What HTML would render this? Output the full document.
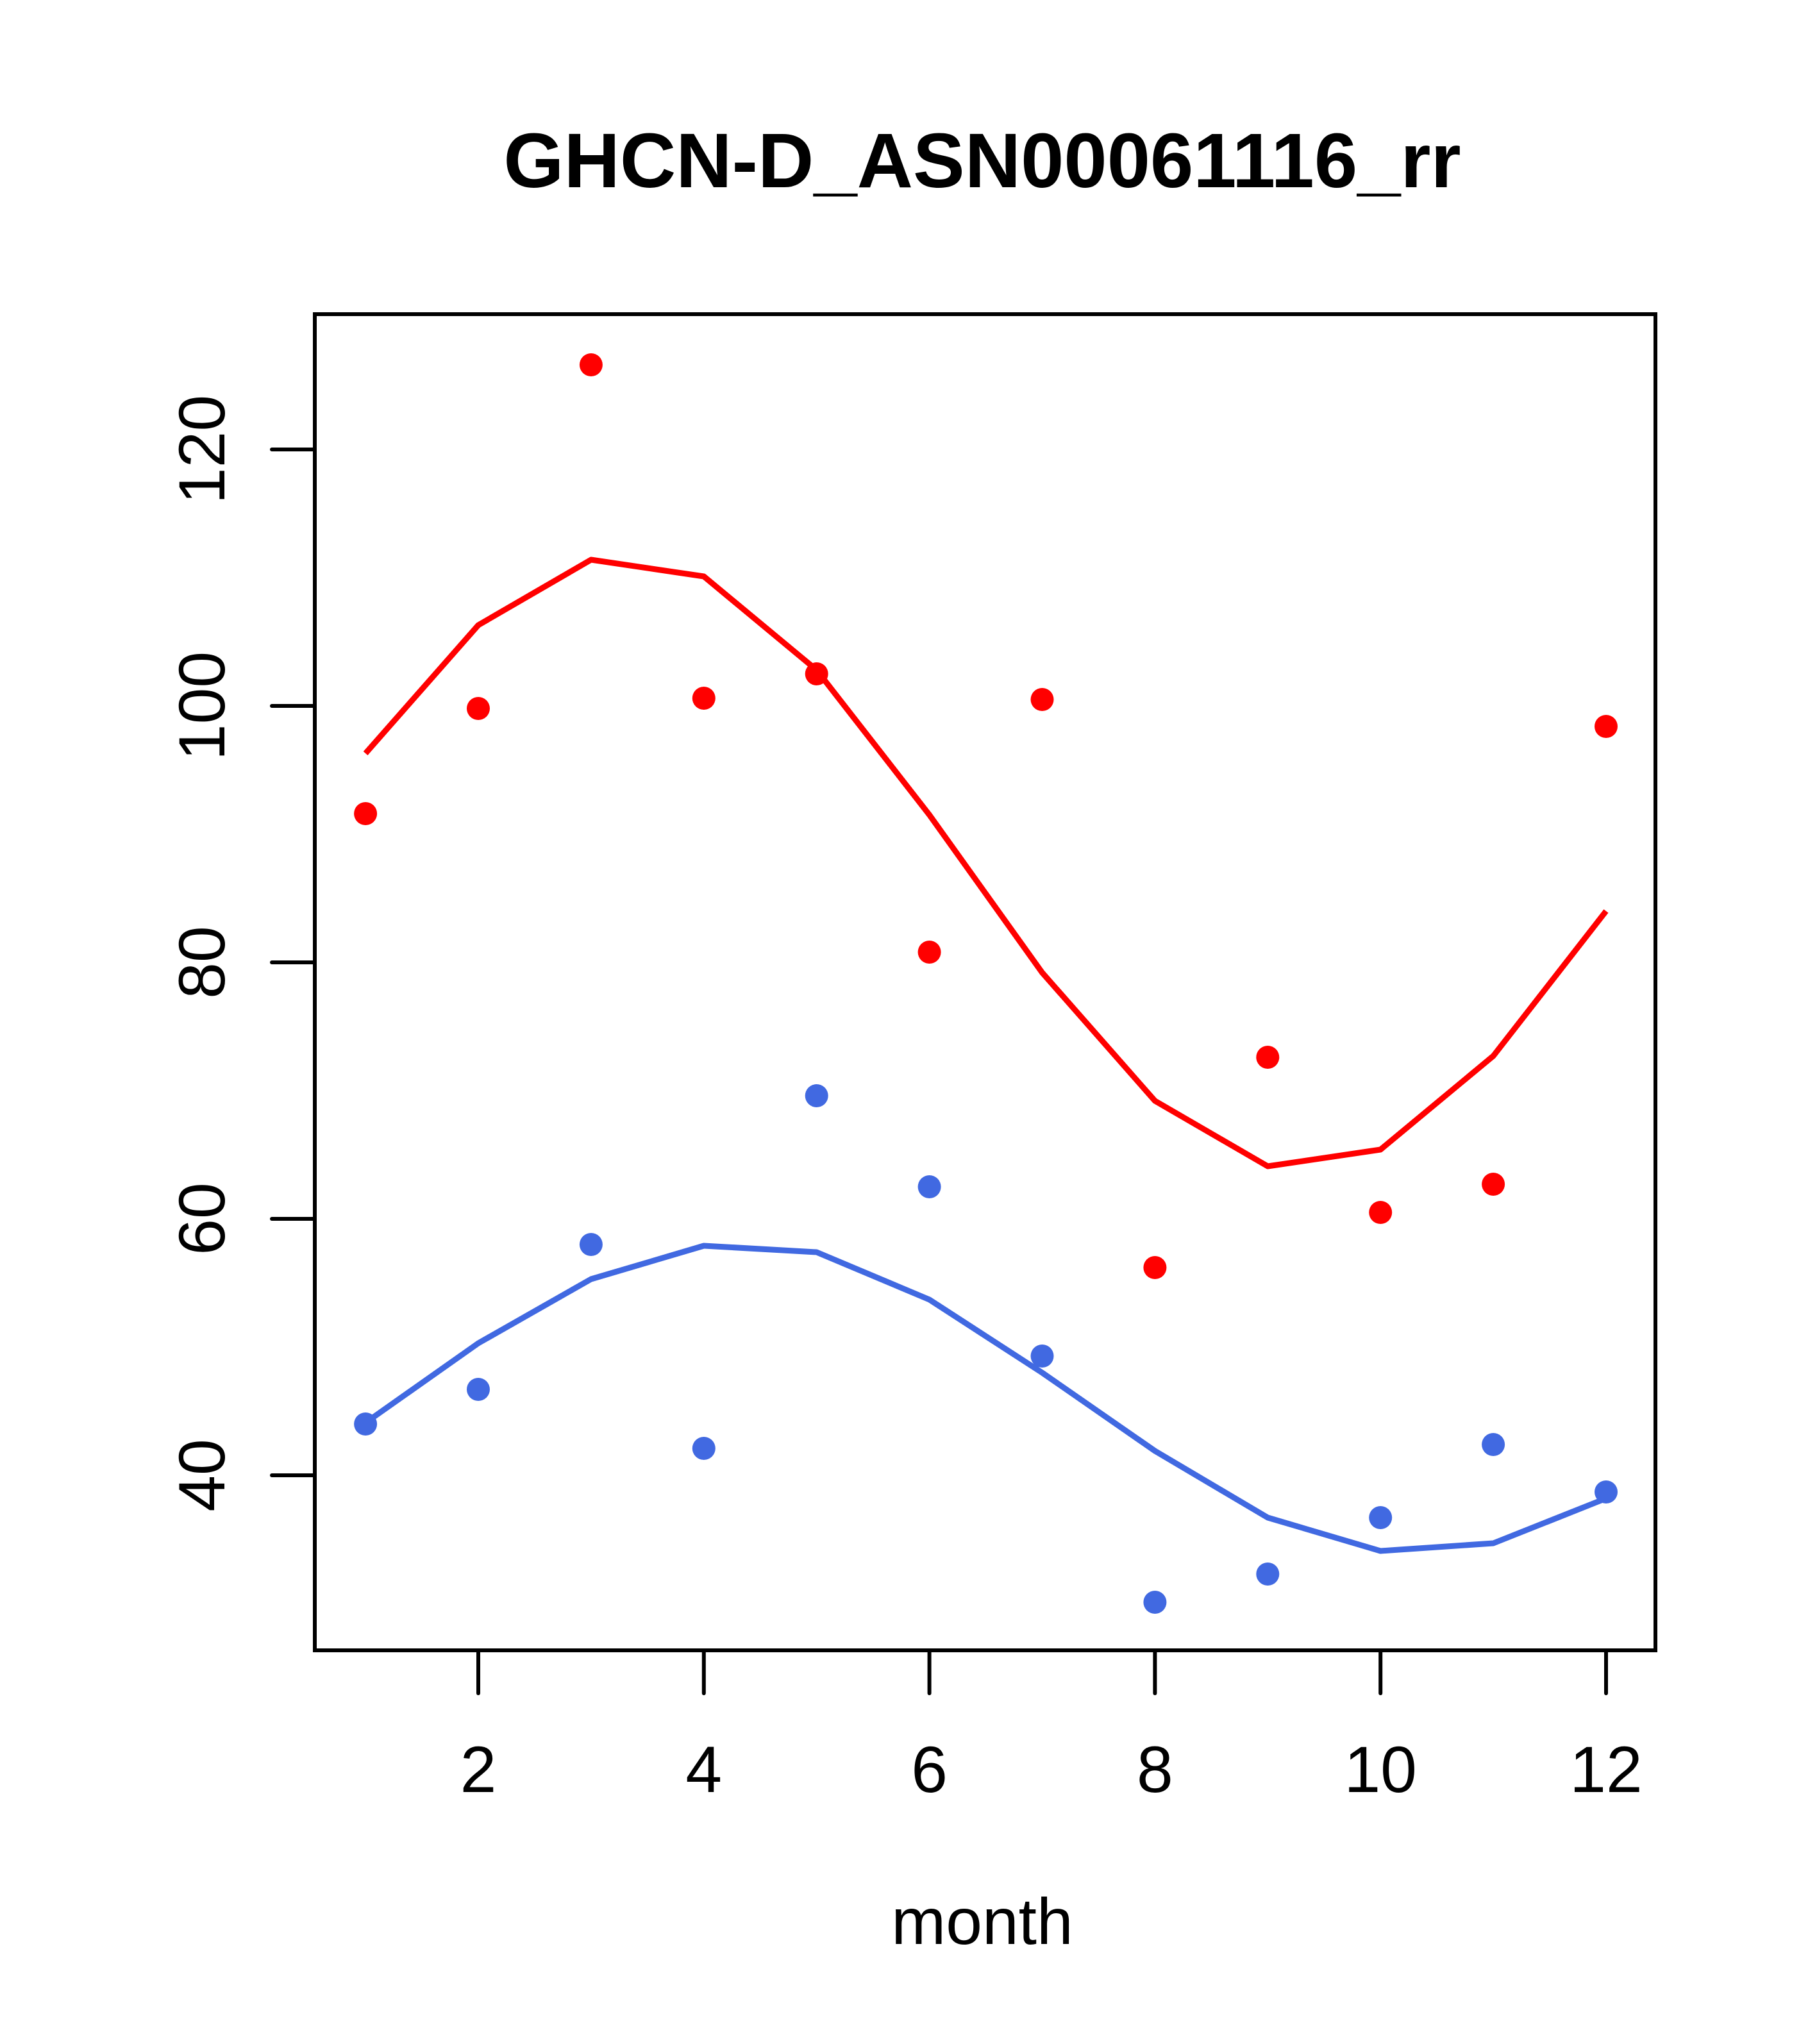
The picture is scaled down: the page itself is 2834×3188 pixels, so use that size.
<!DOCTYPE html>
<html><head><meta charset="utf-8"><style>
html,body{margin:0;padding:0;background:#fff}
svg{display:block}
text{font-family:"Liberation Sans",Arial,sans-serif;fill:#000}
</style></head><body>
<svg id="chart" width="2834" height="3188" viewBox="0 0 2834 3188" xmlns="http://www.w3.org/2000/svg">
<rect width="2834" height="3188" fill="#fff"/>
<text x="1532" y="292" font-size="121" font-weight="bold" text-anchor="middle">GHCN-D_ASN00061116_rr</text>
<rect x="491" y="490" width="2091" height="2084" fill="none" stroke="#000" stroke-width="6"/>
<g id="xaxis"></g>
<g id="yaxis"></g>
<g id="series"></g>
<text x="1532" y="3032" font-size="102" text-anchor="middle">month</text>
</svg>
<script>
const months = [1,2,3,4,5,6,7,8,9,10,11,12];
const xTicks = [2,4,6,8,10,12];
const yTicks = [40,60,80,100,120];
const redPoints = [91.6,99.8,126.6,100.6,102.5,80.8,100.5,56.2,72.6,60.5,62.7,98.4];
const redLine = [96.3,106.3,111.4,110.1,102.8,91.5,79.2,69.2,64.1,65.4,72.7,84.0];
const bluePoints = [44.0,46.7,58.0,42.1,69.6,62.5,49.3,30.1,32.3,36.7,42.4,38.7];
const blueLine = [44.1,50.3,55.3,57.9,57.4,53.7,48.0,41.9,36.7,34.1,34.7,38.2];

const NS = 'http://www.w3.org/2000/svg';
function xs(m){ return 746 + (m-2)*(2505-746)/10; }
function ys(v){ return 2301 - (v-40)*(2301-701)/80; }
function mk(tag, attrs, parent){
  const e = document.createElementNS(NS, tag);
  for (const k in attrs) e.setAttribute(k, attrs[k]);
  parent.appendChild(e); return e;
}
const xa = document.getElementById('xaxis');
const ya = document.getElementById('yaxis');
const sg = document.getElementById('series');

xTicks.forEach(t => {
  const l = mk('line', {x1:xs(t), x2:xs(t), y1:2574, y2:2641, stroke:'#000','stroke-width':6,'stroke-linecap':'round'}, xa);
  
  
  const tx = mk('text', {x:xs(t), y:2795, 'font-size':102, 'text-anchor':'middle'}, xa);
  tx.textContent = t;
  
  
});
yTicks.forEach(t => {
  const l = mk('line', {x1:424, x2:491, y1:ys(t), y2:ys(t), stroke:'#000','stroke-width':6,'stroke-linecap':'round'}, ya);
  
  
  const tx = mk('text', {x:0, y:0, 'font-size':102, 'text-anchor':'middle', transform:'translate(350,'+ys(t)+') rotate(-90)'}, ya);
  tx.textContent = t;
  
  
});

function drawLine(vals, color, name){
  const pts = vals.map((v,i) => xs(months[i]) + ',' + ys(v)).join(' ');
  const p = mk('polyline', {points:pts, fill:'none', stroke:color, 'stroke-width':9, 'stroke-linejoin':'round'}, sg);
  
  
}
function drawPoints(vals, color, name){
  vals.forEach((v,i) => {
    const c = mk('circle', {cx:xs(months[i]), cy:ys(v), r:18, fill:color}, sg);
    
    
  });
}
drawLine(redLine, '#ff0000', 'red-smooth-line');
drawLine(blueLine, '#4169e1', 'blue-smooth-line');
drawPoints(redPoints, '#ff0000', 'red-point');
drawPoints(bluePoints, '#4169e1', 'blue-point');
</script>
</body></html>
